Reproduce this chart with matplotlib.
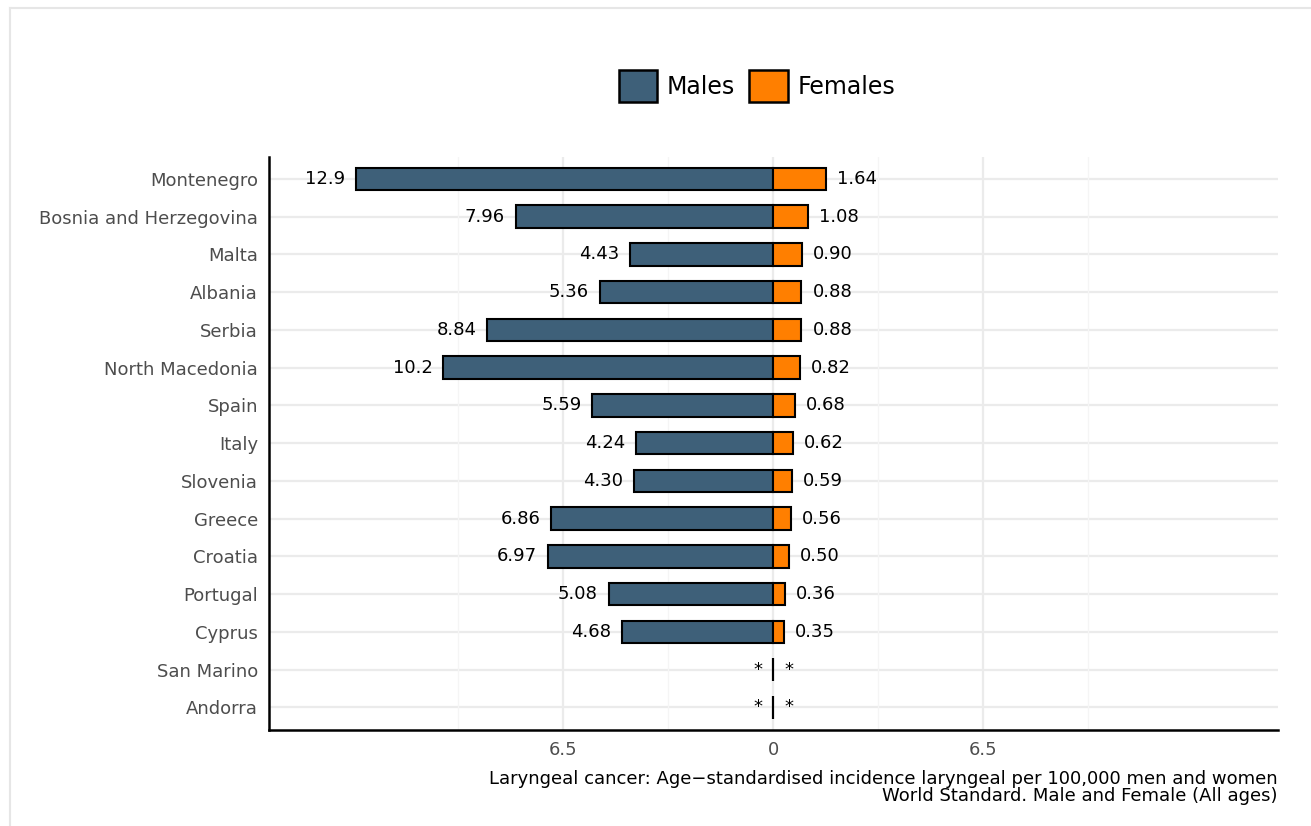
import matplotlib
matplotlib.use("Agg")
import matplotlib.pyplot as plt
from matplotlib.patches import Patch
from matplotlib.lines import Line2D

plt.rcParams["font.family"] = ["DejaVu Sans"]

countries = ["Montenegro", "Bosnia and Herzegovina", "Malta", "Albania", "Serbia",
             "North Macedonia", "Spain", "Italy", "Slovenia", "Greece", "Croatia",
             "Portugal", "Cyprus", "San Marino", "Andorra"]
males = [12.9, 7.96, 4.43, 5.36, 8.84, 10.2, 5.59, 4.24, 4.30, 6.86, 6.97, 5.08, 4.68, None, None]
females = [1.64, 1.08, 0.90, 0.88, 0.88, 0.82, 0.68, 0.62, 0.59, 0.56, 0.50, 0.36, 0.35, None, None]
tick_vals = [-6.5, 0, 6.5]
tick_labels = ["6.5", "0", "6.5"]

male_color = "#3E6079"
female_color = "#FF7F00"

W, H = 1311, 826
fig = plt.figure(figsize=(W / 100, H / 100), dpi=100)
ax = fig.add_axes([269 / W, 1 - 730 / H, (1278 - 269) / W, (730 - 157) / H])

n = len(countries)
ypos = [n - 1 - i for i in range(n)]

# grid
for y in ypos:
    ax.axhline(y, color="#EBEBEB", lw=1.6, zorder=0)
for x in [-9.75, -3.25, 3.25, 9.75]:
    ax.axvline(x, color="#F5F5F5", lw=1.0, zorder=0)
for x in tick_vals:
    ax.axvline(x, color="#EBEBEB", lw=1.6, zorder=0)

bh = 0.6
def fmt(v):
    return f"{v:.1f}" if v >= 10 else f"{v:.2f}"

for y, m, f in zip(ypos, males, females):
    mv = m if m is not None else 0
    fv = f if f is not None else 0
    ax.barh(y, -mv, height=bh, color=male_color, edgecolor="black", lw=1.5, zorder=3)
    ax.barh(y, fv, height=bh, color=female_color, edgecolor="black", lw=1.5, zorder=3)
    ml = fmt(m) if m is not None else "*"
    fl = fmt(f) if f is not None else "*"
    ax.annotate(ml, (-mv, y), xytext=(-11, 0), textcoords="offset pixels",
                ha="right", va="center", fontsize=13, color="black", zorder=4)
    ax.annotate(fl, (fv, y), xytext=(11, 0), textcoords="offset pixels",
                ha="left", va="center", fontsize=13, color="black", zorder=4)

ax.set_xlim(-15.6, 15.63)
ax.set_ylim(-0.6, n - 1 + 0.58)
ax.set_yticks(ypos)
ax.set_yticklabels(countries, fontsize=13, color="#4D4D4D")
ax.set_xticks(tick_vals)
ax.set_xticklabels(tick_labels, fontsize=13, color="#4D4D4D")
ax.tick_params(axis="both", length=0, pad=8)
for s in ["top", "right"]:
    ax.spines[s].set_visible(False)
for s in ["left", "bottom"]:
    ax.spines[s].set_linewidth(1.8)
    ax.spines[s].set_color("black")

fig.text(1278 / W, 1 - 779 / H, "Laryngeal cancer: Age\u2212standardised incidence laryngeal per 100,000 men and women",
         ha="right", va="center", fontsize=13)
fig.text(1278 / W, 1 - 796 / H, "World Standard. Male and Female (All ages)",
         ha="right", va="center", fontsize=13)

handles = [Patch(facecolor=male_color, edgecolor="black", lw=1.8, label="Males"),
           Patch(facecolor=female_color, edgecolor="black", lw=1.8, label="Females")]
fig.legend(handles=handles, loc="center", bbox_to_anchor=(757 / W, 1 - 86 / H), ncol=2,
           frameon=False, fontsize=17, handlelength=1.65, handleheight=1.65,
           handletextpad=0.4, columnspacing=0.6)

# outer light border
fig.add_artist(Line2D([10 / W, 1], [1 - 8 / H, 1 - 8 / H], transform=fig.transFigure, color="#E6E6E6", lw=1.5))
fig.add_artist(Line2D([10 / W, 10 / W], [0, 1 - 8 / H], transform=fig.transFigure, color="#E6E6E6", lw=1.5))

fig.savefig("out.png", dpi=100)
